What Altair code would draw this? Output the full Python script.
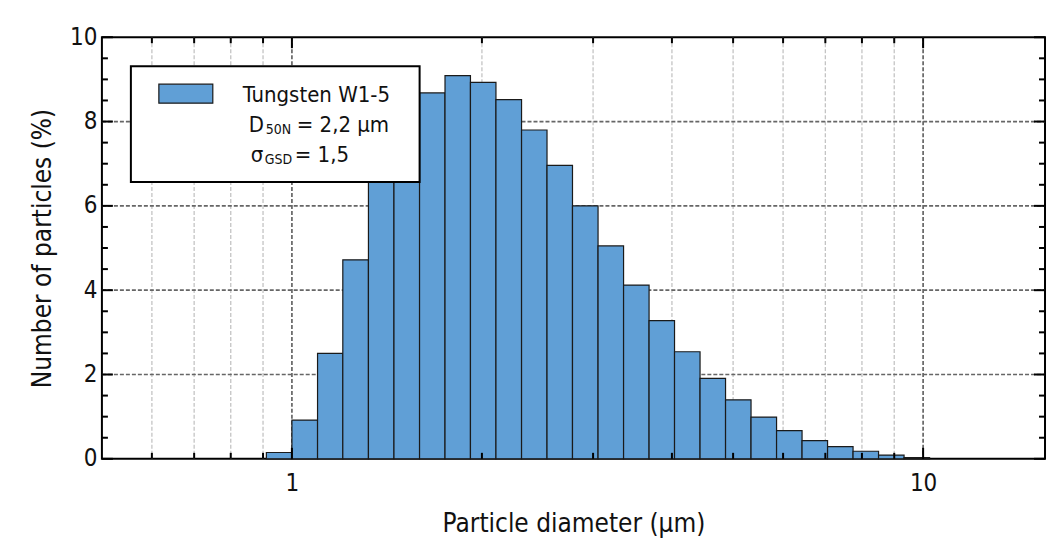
import altair as alt
import pandas as pd

# ---- data ----
bin_left = [0.911, 1.000, 1.098, 1.204, 1.322, 1.451, 1.593, 1.748, 1.918, 2.105,
            2.311, 2.536, 2.783, 3.055, 3.353, 3.680, 4.038, 4.432, 4.864, 5.338,
            5.859, 6.430, 7.057, 7.745, 8.500, 9.329]
bin_right = [1.000, 1.098, 1.204, 1.322, 1.451, 1.593, 1.748, 1.918, 2.105, 2.311,
             2.536, 2.783, 3.055, 3.353, 3.680, 4.038, 4.432, 4.864, 5.338, 5.859,
             6.430, 7.057, 7.745, 8.500, 9.329, 10.239]
percent = [0.15, 0.92, 2.50, 4.72, 6.60, 7.99, 8.68, 9.09, 8.93, 8.52,
           7.80, 6.96, 6.00, 5.05, 4.12, 3.28, 2.54, 1.91, 1.40, 0.99,
           0.67, 0.43, 0.29, 0.18, 0.09, 0.03]

x_major = [1, 10]
x_minor = [0.6, 0.7, 0.8, 0.9, 2, 3, 4, 5, 6, 7, 8, 9]
y_major = [0, 2, 4, 6, 8, 10]
y_grid = [2, 4, 6, 8]
y_minor = [0.5, 1, 1.5, 2.5, 3, 3.5, 4.5, 5, 5.5, 6.5, 7, 7.5, 8.5, 9, 9.5]

series_name = "Tungsten W1-5"
x_title = "Particle diameter (µm)"
y_title = "Number of particles (%)"

W, H = 944, 422
FONT = "DejaVu Sans Condensed, DejaVu Sans"
BLUE = "#609fd6"

bars_df = pd.DataFrame({"x0": bin_left, "x1": bin_right, "p": percent})
xmaj_df = pd.DataFrame({"x0": x_major})
xmin_df = pd.DataFrame({"x0": x_minor})
ymaj_df = pd.DataFrame({"p": y_major})
ygrid_df = pd.DataFrame({"p": y_grid})
ymin_df = pd.DataFrame({"p": y_minor})

xs = alt.Scale(type="log", domain=[0.5, 15.6], nice=False)
ys = alt.Scale(domain=[0, 10], nice=False)

x_axis = alt.Axis(values=x_major, format="d", title=x_title, labelPadding=13, titlePadding=15)
y_axis = alt.Axis(values=y_major, format="d", title=y_title, labelPadding=5, titlePadding=14)

def xenc():
    return alt.X("x0:Q", scale=xs, axis=x_axis)

def yenc():
    return alt.Y("p:Q", scale=ys, axis=y_axis)

# gridlines
grid_minor = alt.Chart(xmin_df).mark_rule(color="#c4c4c4", strokeWidth=1.3, strokeDash=[4, 2]).encode(
    x=xenc(), y=alt.value(0), y2=alt.value(H))
grid_xmaj = alt.Chart(xmaj_df).mark_rule(color="#666666", strokeWidth=1.7, strokeDash=[4, 2]).encode(
    x=xenc(), y=alt.value(0), y2=alt.value(H))
grid_ymaj = alt.Chart(ygrid_df).mark_rule(color="#666666", strokeWidth=1.7, strokeDash=[4, 2]).encode(
    y=yenc(), x=alt.value(0), x2=alt.value(W))

bars = alt.Chart(bars_df).mark_rect(fill=BLUE, stroke="#1a1a1a", strokeWidth=1.2).encode(
    x=xenc(), x2="x1:Q", y=yenc(), y2=alt.datum(0),
)

tick_style = dict(color="black", strokeWidth=2)
t_bot_maj = alt.Chart(xmaj_df).mark_rule(**tick_style).encode(x=xenc(), y=alt.value(H), y2=alt.value(H - 11))
t_bot_min = alt.Chart(xmin_df).mark_rule(**tick_style).encode(x=xenc(), y=alt.value(H), y2=alt.value(H - 6))
t_top_maj = alt.Chart(xmaj_df).mark_rule(**tick_style).encode(x=xenc(), y=alt.value(0), y2=alt.value(11))
t_top_min = alt.Chart(xmin_df).mark_rule(**tick_style).encode(x=xenc(), y=alt.value(0), y2=alt.value(6))
t_l_maj = alt.Chart(ymaj_df).mark_rule(**tick_style).encode(y=yenc(), x=alt.value(0), x2=alt.value(11))
t_l_min = alt.Chart(ymin_df).mark_rule(**tick_style).encode(y=yenc(), x=alt.value(0), x2=alt.value(6))
t_r_maj = alt.Chart(ymaj_df).mark_rule(**tick_style).encode(y=yenc(), x=alt.value(W), x2=alt.value(W - 11))
t_r_min = alt.Chart(ymin_df).mark_rule(**tick_style).encode(y=yenc(), x=alt.value(W), x2=alt.value(W - 6))

# legend
leg_df = pd.DataFrame({"name": [series_name]})
leg_box = alt.Chart(leg_df).mark_rect(fill="white", stroke="black", strokeWidth=2).encode(
    x=alt.value(29), x2=alt.value(318), y=alt.value(29), y2=alt.value(145))
leg_sw = alt.Chart(leg_df).mark_rect(fill=BLUE, stroke="#1a1a1a", strokeWidth=1.2).encode(
    x=alt.value(57), x2=alt.value(111), y=alt.value(47), y2=alt.value(66))

def txt(s, x, y, size):
    return alt.Chart(pd.DataFrame({"t": [s]})).mark_text(
        align="left", baseline="alphabetic", font=FONT, fontSize=size, color="#111").encode(
        text="t:N", x=alt.value(x), y=alt.value(y))

leg_t1 = alt.Chart(leg_df).mark_text(align="left", baseline="alphabetic", font=FONT, fontSize=22,
                                     color="#111").encode(text="name:N", x=alt.value(141), y=alt.value(65))
leg_d = txt("D", 147, 95, 22)
leg_d_sub = txt("50N", 164, 97, 14)
leg_d_rest = txt("= 2,2 µm", 195, 95, 22)
leg_s = txt("σ", 149, 125, 22)
leg_s_sub = txt("GSD", 163, 127, 14)
leg_s_rest = txt("= 1,5", 193, 125, 22)

chart = alt.layer(
    grid_minor, grid_xmaj, grid_ymaj, bars,
    t_bot_maj, t_bot_min, t_top_maj, t_top_min, t_l_maj, t_l_min, t_r_maj, t_r_min,
    leg_box, leg_sw, leg_t1, leg_d, leg_d_sub, leg_d_rest, leg_s, leg_s_sub, leg_s_rest,
).properties(
    width=W, height=H,
    autosize=alt.AutoSizeParams(type="none"),
    padding={"left": 94, "top": 29, "right": 10, "bottom": 80},
).configure_view(
    stroke="black", strokeWidth=2
).configure_axis(
    grid=False, ticks=False, tickSize=0, domain=False,
    labelFont=FONT, labelFontSize=24, labelColor="#111",
    titleFont=FONT, titleFontSize=26, titleColor="#111", titleFontWeight="normal",
)

chart.save("out.html", embed_options={"renderer": "svg", "actions": False})
